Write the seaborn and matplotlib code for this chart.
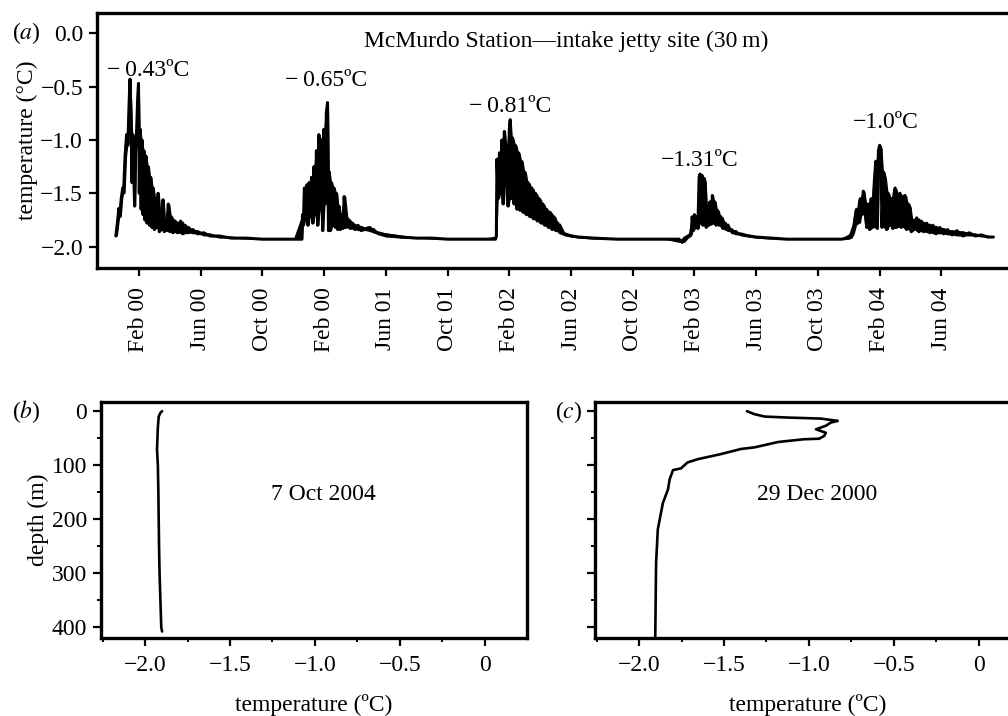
import numpy as np
import pandas as pd
import matplotlib
matplotlib.use("Agg")
import matplotlib.pyplot as plt
import seaborn as sns

# months since Jan 2000 (Feb 00 = 1), temperature at 30 m
s1_month = [-0.50, -0.40, -0.30, -0.25, -0.15, -0.05, 0.00, 0.10, 0.20, 0.28, 0.35, 0.42, 0.48,
            0.55, 0.60, 0.66, 0.72, 0.78, 0.85, 0.92, 0.97, 1.02, 1.08, 1.14, 1.20, 1.26, 1.32,
            1.38, 1.45, 1.52, 1.60, 1.68, 1.76, 1.84, 1.92, 2.00, 2.08, 2.16, 2.24, 2.32, 2.40,
            2.48, 2.56, 2.64, 2.72, 2.80, 2.90, 3.00, 3.10, 3.20, 3.35, 3.50, 3.70, 3.85, 4.00,
            4.20, 4.50, 4.80, 5.20, 5.60, 6.20, 7.00, 8.00, 9.00, 10.0, 11.0]
s1_temp = [-1.90, -1.78, -1.64, -1.72, -1.55, -1.45, -1.50, -1.15, -0.95, -1.05, -0.70, -0.43, -0.75,
           -1.40, -0.95, -1.30, -1.62, -1.10, -0.90, -0.60, -0.47, -1.50, -0.90, -1.65, -1.00, -1.70, -1.10,
           -1.75, -1.15, -1.78, -1.25, -1.80, -1.35, -1.82, -1.45, -1.84, -1.55, -1.82, -1.50, -1.86, -1.65,
           -1.84, -1.56, -1.86, -1.75, -1.85, -1.60, -1.86, -1.72, -1.87, -1.76, -1.87, -1.76, -1.88, -1.80,
           -1.87, -1.84, -1.88, -1.87, -1.90, -1.90, -1.92, -1.92, -1.93, -1.93, -1.93]

s2_month = [11.56, 11.60, 11.65, 11.72, 11.80, 11.88, 11.95, 12.02, 12.10, 12.18, 12.26, 12.34, 12.42,
            12.50, 12.58, 12.66, 12.74, 12.82, 12.90, 12.98, 13.06, 13.14, 13.22, 13.28, 13.34, 13.40,
            13.48, 13.56, 13.64, 13.72, 13.80, 13.88, 13.96, 14.04, 14.12, 14.22, 14.30, 14.40, 14.55,
            14.70, 14.85, 15.00, 15.20, 15.40, 15.70, 15.97, 16.20, 16.50, 17.0, 18.0, 19.0, 20.0, 21.0,
            22.0, 23.0, 24.1]
s2_temp = [-1.93, -1.70, -1.80, -1.45, -1.75, -1.42, -1.80, -1.40, -1.72, -1.35, -1.78, -1.25, -1.70,
           -1.10, -1.80, -0.95, -1.65, -1.00, -1.85, -0.90, -1.60, -0.75, -0.65, -1.85, -1.30, -1.85,
           -1.40, -1.80, -1.45, -1.82, -1.50, -1.84, -1.62, -1.84, -1.70, -1.83, -1.53, -1.82, -1.74,
           -1.83, -1.78, -1.84, -1.80, -1.85, -1.83, -1.82, -1.86, -1.87, -1.89, -1.91, -1.92, -1.92, -1.93,
           -1.93, -1.93, -1.93]

s3_month = [24.16, 24.20, 24.28, 24.36, 24.44, 24.52, 24.60, 24.68, 24.76, 24.84, 24.92, 25.00, 25.06,
            25.12, 25.20, 25.30, 25.40, 25.50, 25.60, 25.70, 25.80, 25.90, 26.00, 26.10, 26.22, 26.34,
            26.46, 26.58, 26.70, 26.82, 26.94, 27.06, 27.18, 27.30, 27.42, 27.54, 27.66, 27.78, 27.90,
            28.02, 28.15, 28.30, 28.60, 29.0, 29.5, 30.5, 32.0, 33.5, 35.0, 36.0, 36.2, 36.35, 36.6, 36.8]
s3_temp = [-1.90, -1.18, -1.55, -1.12, -1.50, -1.00, -1.60, -0.92, -1.40, -1.05, -1.62, -0.90, -0.81,
           -1.55, -0.98, -1.60, -1.05, -1.65, -1.12, -1.66, -1.20, -1.68, -1.30, -1.70, -1.40, -1.72,
           -1.45, -1.74, -1.50, -1.76, -1.55, -1.78, -1.60, -1.80, -1.65, -1.82, -1.68, -1.84, -1.72,
           -1.85, -1.78, -1.87, -1.88, -1.90, -1.91, -1.92, -1.93, -1.93, -1.93, -1.93, -1.96, -1.92, -1.90, -1.88]

s4_month = [36.85, 36.92, 37.00, 37.08, 37.15, 37.22, 37.30, 37.36, 37.42, 37.48, 37.55, 37.62, 37.70,
            37.76, 37.84, 37.92, 38.00, 38.08, 38.16, 38.24, 38.32, 38.40, 38.50, 38.60, 38.72, 38.85,
            39.0, 39.2, 39.4, 39.7, 40.0, 40.5, 41.0, 42.0, 43.0, 44.0, 45.0, 46.0, 46.5, 47.0]
s4_temp = [-1.72, -1.85, -1.70, -1.82, -1.72, -1.83, -1.35, -1.32, -1.78, -1.33, -1.80, -1.36, -1.40,
           -1.82, -1.62, -1.80, -1.58, -1.79, -1.52, -1.78, -1.58, -1.80, -1.66, -1.80, -1.72, -1.83,
           -1.78, -1.85, -1.84, -1.88, -1.88, -1.90, -1.91, -1.92, -1.93, -1.93, -1.93, -1.93, -1.93, -1.92]

s5_month = [47.2, 47.35, 47.5, 47.6, 47.75, 47.85, 47.94, 48.05, 48.16, 48.25, 48.35, 48.45, 48.55,
            48.65, 48.75, 48.85, 48.92, 49.00, 49.08, 49.15, 49.25, 49.35, 49.45, 49.55, 49.65, 49.75,
            49.85, 50.00, 50.10, 50.20, 50.32, 50.40, 50.50, 50.64, 50.75, 50.85, 50.97, 51.05, 51.15,
            51.25, 51.40, 51.55, 51.70, 51.85, 52.05, 52.25, 52.45, 52.65, 52.90, 53.15, 53.40, 53.70,
            54.00, 54.40, 54.80, 55.2, 55.6, 56.0, 56.37]
s5_temp = [-1.88, -1.80, -1.65, -1.78, -1.55, -1.70, -1.48, -1.60, -1.82, -1.60, -1.84, -1.55, -1.82,
           -1.40, -1.20, -1.83, -1.10, -1.05, -1.08, -1.82, -1.30, -1.37, -1.84, -1.50, -1.80, -1.55,
           -1.83, -1.45, -1.82, -1.52, -1.50, -1.82, -1.55, -1.52, -1.84, -1.60, -1.64, -1.86, -1.75,
           -1.84, -1.73, -1.86, -1.76, -1.86, -1.78, -1.87, -1.80, -1.88, -1.82, -1.88, -1.84, -1.89,
           -1.85, -1.90, -1.87, -1.90, -1.89, -1.91, -1.91]

tick_months = [1, 5, 9, 13, 17, 21, 25, 29, 33, 37, 41, 45, 49, 53]
tick_labels = ["Feb 00", "Jun 00", "Oct 00", "Feb 00", "Jun 01", "Oct 01", "Feb 02",
               "Jun 02", "Oct 02", "Feb 03", "Jun 03", "Oct 03", "Feb 04", "Jun 04"]

peak_labels = ["\u2212\u20090.43ºC", "\u2212\u20090.65ºC", "\u2212\u20090.81ºC", "\u22121.31ºC", "\u22121.0ºC"]
peak_month = [1.58, 13.12, 25.05, 37.36, 49.4]
peak_temp = [-0.35, -0.44, -0.69, -1.19, -0.84]

# CTD profiles
b_depth = [0, 3, 10, 30, 70, 100, 150, 200, 250, 300, 350, 400, 408]
b_temp = [-1.90, -1.91, -1.92, -1.925, -1.93, -1.925, -1.922, -1.92, -1.918, -1.915, -1.91, -1.905, -1.90]

c_depth = [0, 5.6, 10, 11.8, 13.7, 18, 21, 27, 33.5, 40, 46, 51, 52, 57, 67, 70, 79.6, 88.9,
           95, 106, 109, 126, 145, 170, 219, 281, 418]
c_temp = [-1.365, -1.32, -1.26, -1.125, -0.93, -0.83, -0.87, -0.90, -0.958, -0.90, -0.91, -0.94,
          -1.03, -1.18, -1.32, -1.40, -1.52, -1.655, -1.715, -1.754, -1.80, -1.82, -1.83, -1.86,
          -1.89, -1.90, -1.905]

sns.set_style("ticks")
plt.rcParams["font.family"] = ["Liberation Serif", "DejaVu Serif"]
plt.rcParams["mathtext.fontset"] = "stix"
plt.rcParams["path.simplify"] = False
for key in ["text.color", "axes.labelcolor", "xtick.color", "ytick.color", "axes.edgecolor"]:
    plt.rcParams[key] = "black"
FS = 17

series = pd.DataFrame({
    "month": s1_month + s2_month + s3_month + s4_month + s5_month,
    "temp": s1_temp + s2_temp + s3_temp + s4_temp + s5_temp,
})
# the tidal oscillation is too fast to resolve: shade between neighbouring highs and lows
series["lo"] = series["temp"].rolling(3, center=True, min_periods=1).min()
series["hi"] = series["temp"].rolling(3, center=True, min_periods=1).max()
prof_b = pd.DataFrame({"depth": b_depth, "temp": b_temp})
prof_c = pd.DataFrame({"depth": c_depth, "temp": c_temp})

fig = plt.figure(figsize=(10.08, 7.16), dpi=100)
ax_a = fig.add_axes([97 / 1008, 1 - 268 / 716, (1021 - 97) / 1008, 255 / 716])
ax_b = fig.add_axes([101 / 1008, 1 - 638 / 716, 426 / 1008, 236 / 716])
ax_c = fig.add_axes([595 / 1008, 1 - 638 / 716, 426 / 1008, 236 / 716])

ax_a.fill_between(series["month"], series["lo"], series["hi"], color="black", lw=0)
sns.lineplot(data=series, x="month", y="temp", ax=ax_a, color="black", lw=2.2,
             sort=False, estimator=None)
ax_a.set_xlim(-1.72, 58.16)
ax_a.set_ylim(-2.2, 0.19)
ax_a.set_yticks([0.0, -0.5, -1.0, -1.5, -2.0])
ax_a.set_yticklabels(["0.0", "\u22120.5", "\u22121.0", "\u22121.5", "\u22122.0"])
ax_a.set_xticks(tick_months)
ax_a.set_xticklabels(tick_labels, rotation=90)
ax_a.set_xlabel("")
ax_a.set_ylabel("temperature (°C)", fontsize=FS, labelpad=2)
ax_a.text(28.7, -0.08, "McMurdo Station\u2014intake jetty site (30\u2009m)",
          ha="center", va="center", fontsize=FS)
for lab, m, t in zip(peak_labels, peak_month, peak_temp):
    ax_a.text(m, t, lab, ha="center", va="center", fontsize=FS)

for ax, prof, date in [(ax_b, prof_b, "7 Oct 2004"), (ax_c, prof_c, "29 Dec 2000")]:
    sns.lineplot(data=prof, x="temp", y="depth", ax=ax, color="black", lw=1.9,
                 sort=False, estimator=None)
    ax.set_xlim(-2.26, 0.25)
    ax.set_ylim(420, -17)
    ax.set_xticks([-2.0, -1.5, -1.0, -0.5, 0.0])
    ax.set_xticklabels(["\u22122.0", "\u22121.5", "\u22121.0", "\u22120.5", "0"])
    ax.set_xticks([-2.25, -1.75, -1.25, -0.75, -0.25], minor=True)
    ax.set_yticks([0, 100, 200, 300, 400])
    ax.set_yticks([50, 150, 250, 350], minor=True)
    ax.set_xlabel("temperature (ºC)", fontsize=FS, labelpad=13)
    ax.set_ylabel("")
    ax.text(-0.95, 155, date, ha="center", va="center", fontsize=FS)
ax_b.set_ylabel("depth (m)", fontsize=FS, labelpad=2)
ax_c.set_yticklabels([])

for ax in [ax_a, ax_b, ax_c]:
    for sp in ax.spines.values():
        sp.set_linewidth(2.4)
    ax.tick_params(which="major", direction="out", length=6, width=1.6, labelsize=FS, pad=4)
    ax.tick_params(which="minor", direction="out", length=3, width=1.4)
ax_a.tick_params(axis="x", pad=8)
ax_b.tick_params(axis="x", pad=6)
ax_c.tick_params(axis="x", pad=6)

fig.text(12 / 1008, 1 - 33 / 716, "($a$)", fontsize=FS, va="center")
fig.text(12 / 1008, 1 - 412 / 716, "($b$)", fontsize=FS, va="center")
fig.text(555 / 1008, 1 - 412 / 716, "($c$)", fontsize=FS, va="center")

fig.savefig("out.png", dpi=100)
